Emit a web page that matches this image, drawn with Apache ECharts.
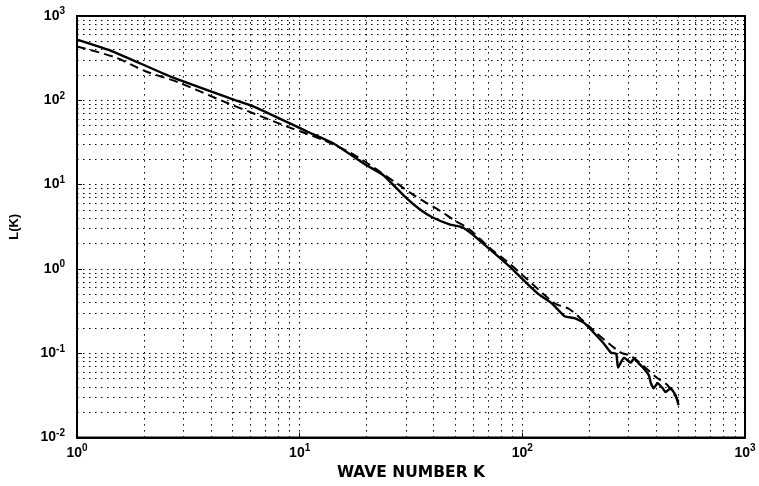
<!DOCTYPE html>
<html><head><meta charset="utf-8">
<script src="https://cdn.jsdelivr.net/npm/echarts@6/dist/echarts.min.js"></script>
<style>html,body{margin:0;padding:0;background:#fff}#c{width:759px;height:486px}</style>
</head><body><div id="c"></div>
<script>
const kSolid = [1, 1.45, 2.67, 4.94, 6.26, 10.8, 14.2, 19.9, 23.7, 30.0, 34.7, 39.6, 47.1, 53.8, 59.7, 68.2, 81.1, 89.9, 102.8, 118.6, 135.5, 154.8, 171.5, 190, 210, 233, 250, 264, 269, 286, 307, 317, 334, 351, 370, 378, 389, 405, 427, 440, 463, 488, 503];
const lSolid = [524, 379, 188, 104, 83.7, 42.7, 30.8, 17.1, 13.0, 7.0, 5.07, 4.08, 3.38, 3.12, 2.58, 1.9, 1.28, 1.005, 0.708, 0.499, 0.392, 0.275, 0.261, 0.228, 0.174, 0.129, 0.1016, 0.099, 0.0678, 0.0887, 0.0776, 0.0865, 0.0755, 0.066, 0.0547, 0.0441, 0.0385, 0.0441, 0.0385, 0.0346, 0.0385, 0.0318, 0.0243];
const kDashed = [1, 1.49, 2.03, 2.84, 4.6, 6.26, 8.78, 13.2, 18.0, 27.1, 32.3, 36.9, 42.5, 49.6, 57.8, 64.7, 73.2, 83.7, 100, 139.7, 163, 188, 210, 277, 307, 405, 449, 508];
const lDashed = [434, 322, 221, 164, 95.8, 69.3, 48.8, 32.6, 21.7, 10.5, 7.6, 6.12, 4.93, 3.77, 2.96, 2.26, 1.68, 1.28, 0.85, 0.392, 0.333, 0.241, 0.184, 0.1016, 0.0937, 0.0505, 0.0418, 0.0257];
const xDecades = [1, 10, 100];
const yDecades = [0.01, 0.1, 1, 10, 100];
const minorMult = [2, 3, 4, 5, 6, 7, 8, 9];
const xAxisTitle = 'WAVE NUMBER K';
const yAxisTitle = 'L(K)';

const gridLineStyle = {color: '#000', width: 1, type: [1.5, 4.5]};
const minorLines = [];
xDecades.forEach(d => minorMult.forEach(m => minorLines.push({xAxis: d * m})));
yDecades.forEach(d => minorMult.forEach(m => minorLines.push({yAxis: d * m})));

function fmt(v) {
  const e = Math.round(Math.log10(v));
  return '{b|10}{s|' + e + '}';
}
const richLab = {
  b: {fontFamily: 'Liberation Sans, Arial', fontWeight: 'bold', fontSize: 14, color: '#000'},
  s: {fontFamily: 'Liberation Sans, Arial', fontWeight: 'bold', fontSize: 10, color: '#000', verticalAlign: 'top', padding: [0, 0, 9, 0]}
};

const chart = echarts.init(document.getElementById('c'), null, {renderer: 'canvas'});
chart.setOption({
  animation: false,
  backgroundColor: '#fff',
  grid: {left: 71, right: 14, top: 16, bottom: 43, show: true, borderColor: '#000', borderWidth: 2, backgroundColor: 'transparent'},
  xAxis: {
    type: 'log', logBase: 10, min: 1, max: 1000,
    name: xAxisTitle, nameLocation: 'middle', nameGap: 25,
    nameTextStyle: {fontFamily: 'DejaVu Sans', fontWeight: 'bold', fontSize: 15.5, color: '#000'},
    axisLine: {show: true, lineStyle: {color: '#000', width: 2}},
    axisTick: {show: true, inside: true, length: 5, lineStyle: {color: '#000'}},
    axisLabel: {formatter: fmt, rich: richLab, margin: 6},
    splitLine: {show: true, lineStyle: gridLineStyle}
  },
  yAxis: {
    type: 'log', logBase: 10, min: 0.01, max: 1000,
    name: yAxisTitle, nameLocation: 'middle', nameGap: 56, nameRotate: 90,
    nameTextStyle: {fontFamily: 'Liberation Sans, Arial', fontWeight: 'bold', fontSize: 13, color: '#000'},
    axisLine: {show: true, lineStyle: {color: '#000', width: 2}},
    axisTick: {show: true, inside: true, length: 5, lineStyle: {color: '#000'}},
    axisLabel: {formatter: fmt, rich: richLab, margin: 12},
    splitLine: {show: true, lineStyle: gridLineStyle}
  },
  series: [
    {
      name: 'grid', type: 'line', data: [], silent: true,
      markLine: {silent: true, symbol: ['none', 'none'], label: {show: false}, lineStyle: gridLineStyle, animation: false, data: minorLines}
    },
    {
      name: 'dashed', type: 'line', showSymbol: false, smooth: 0.3,
      data: kDashed.map((k, i) => [k, lDashed[i]]),
      lineStyle: {color: '#000', width: 2, type: [9, 5]}
    },
    {
      name: 'solid', type: 'line', showSymbol: false, smooth: 0.15,
      data: kSolid.map((k, i) => [k, lSolid[i]]),
      lineStyle: {color: '#000', width: 2.4}
    }
  ]
});
</script></body></html>
